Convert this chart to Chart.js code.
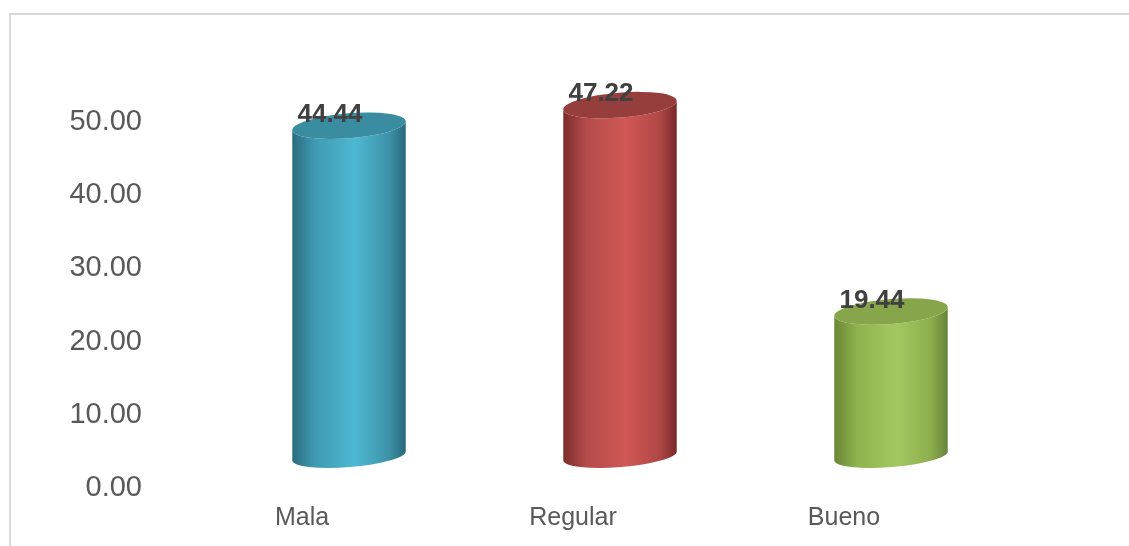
<!DOCTYPE html>
<html>
<head>
<meta charset="utf-8">
<script src="https://cdn.jsdelivr.net/npm/chart.js@4"></script>
<style>
  html, body { margin: 0; padding: 0; background: #fff; }
  #wrap { width: 1129px; height: 546px; }
</style>
</head>
<body>
<div id="wrap"><canvas id="c" width="1129" height="546"></canvas></div>
<script>
const categories = ['Mala', 'Regular', 'Bueno'];
const values = [44.44, 47.22, 19.44];
const yTicks = [0, 10, 20, 30, 40, 50];

// side gradient stops (dark edge, mid, highlight, mid, dark edge) and cap colour
const SHADES = [
  { side: ['#2b6d7e', '#3e9ab1', '#4eb8d2', '#3d93a8', '#29697a'], cap: '#3a8ca1' },
  { side: ['#7c2c2b', '#b34b49', '#d05856', '#b04745', '#772a29'], cap: '#953e3c' },
  { side: ['#6a8736', '#8fb24e', '#a5c761', '#8dae4d', '#67833a'], cap: '#87a64b' },
];
const FONT = '"Liberation Sans", Arial, sans-serif';
const TILT = -0.08;

const framePlugin = {
  id: 'frame',
  beforeDraw(chart) {
    const { ctx } = chart;
    ctx.save();
    ctx.fillStyle = '#fff';
    ctx.fillRect(0, 0, chart.width, chart.height);
    ctx.strokeStyle = '#d9d9d9';
    ctx.lineWidth = 2;
    ctx.strokeRect(10, 14, 1200, 700);
    ctx.restore();
  },
};

// draws each bar as a tilted cylinder, plus its value label
const cylinderPlugin = {
  id: 'cylinders',
  afterDatasetsDraw(chart) {
    const { ctx } = chart;
    const meta = chart.getDatasetMeta(0);
    meta.data.forEach((bar, i) => {
      const cx = bar.x, top = bar.y, base = bar.base;
      const rx = bar.width / 2;
      const dx = rx * Math.cos(TILT), dy = rx * Math.sin(TILT);
      const shade = SHADES[i];

      ctx.save();
      const g = ctx.createLinearGradient(cx - dx, 0, cx + dx, 0);
      [0, 0.2, 0.55, 0.85, 1].forEach((s, k) => g.addColorStop(s, shade.side[k]));
      ctx.beginPath();
      ctx.moveTo(cx - dx, top - dy);
      ctx.lineTo(cx - dx, base - dy);
      ctx.ellipse(cx, base, rx, 11, TILT, Math.PI, 0, true);
      ctx.lineTo(cx + dx, top + dy);
      ctx.ellipse(cx, top, rx, 12.5, TILT, 0, Math.PI, false);
      ctx.closePath();
      ctx.fillStyle = g;
      ctx.fill();

      ctx.beginPath();
      ctx.ellipse(cx, top, rx, 12.5, TILT, 0, Math.PI * 2);
      ctx.fillStyle = shade.cap;
      ctx.fill();

      ctx.fillStyle = '#404040';
      ctx.font = 'bold 26px ' + FONT;
      ctx.textAlign = 'center';
      ctx.textBaseline = 'alphabetic';
      ctx.fillText(values[i].toFixed(2), cx - 19, top - 4);
      ctx.restore();
    });
  },
};

new Chart(document.getElementById('c'), {
  type: 'bar',
  data: {
    labels: categories,
    datasets: [{
      data: values,
      yAxisID: 'yb',
      backgroundColor: 'rgba(0,0,0,0)',
      borderWidth: 0,
      barPercentage: 0.42,
      categoryPercentage: 1,
    }],
  },
  options: {
    responsive: false,
    animation: false,
    layout: { padding: { top: 122, right: 102.5, bottom: 13, left: 0 } },
    scales: {
      x: {
        grid: { display: false, drawTicks: false },
        border: { display: false },
        afterFit: (s) => { s.height = 45; },
        ticks: {
          color: '#595959',
          font: { family: FONT, size: 25 },
          padding: 15,
          labelOffset: -47,
        },
      },
      y: {
        position: 'left',
        min: 0,
        max: 50,
        grid: { display: false, drawTicks: false },
        border: { display: false },
        afterBuildTicks: (s) => { s.ticks = yTicks.map(v => ({ value: v })); },
        afterFit: (s) => { s.width = 213.5; s.paddingTop = 0; s.paddingBottom = 0; },
        ticks: {
          color: '#595959',
          font: { family: FONT, size: 29 },
          padding: 71.5,
          callback: (v) => Number(v).toFixed(2),
        },
      },
      // hidden axis for the 3D bars: their floor sits above the 0.00 tick
      yb: {
        display: false,
        min: -4.3,
        max: 44.95,
      },
    },
    plugins: {
      legend: { display: false },
      tooltip: { enabled: false },
    },
  },
  plugins: [framePlugin, cylinderPlugin],
});
</script>
</body>
</html>
